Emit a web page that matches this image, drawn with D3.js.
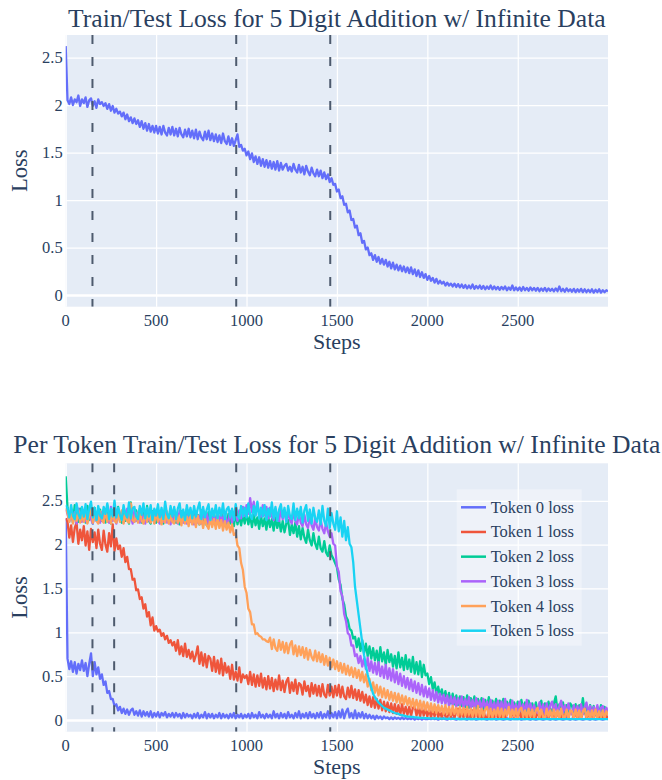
<!DOCTYPE html>
<html><head><meta charset="utf-8">
<script src="https://cdn.jsdelivr.net/npm/d3@7"></script>
<style>body{margin:0;background:#fff}svg{display:block}</style>
</head><body>
<script>
// ---- data: losses read every 10 steps (rows of 100 steps), last point at step 2999 ----
const steps = d3.range(0, 3000, 10).concat([2999]);

const totalLoss = [
2.62,2.05,2.01,2.08,2.00,2.06,2.03,2.10,1.99,2.06,
2.02,2.08,1.98,2.05,2.07,1.99,2.04,1.97,2.06,2.01,
2.03,1.99,2.02,1.96,2.01,1.94,1.99,1.92,1.96,1.91,
1.93,1.88,1.92,1.85,1.90,1.83,1.87,1.81,1.86,1.80,
1.84,1.77,1.83,1.75,1.81,1.73,1.80,1.72,1.78,1.71,
1.78,1.70,1.77,1.69,1.78,1.71,1.68,1.76,1.69,1.77,
1.68,1.75,1.67,1.76,1.69,1.66,1.74,1.67,1.75,1.66,
1.73,1.65,1.74,1.64,1.72,1.66,1.63,1.72,1.64,1.73,
1.63,1.70,1.62,1.69,1.61,1.68,1.60,1.70,1.62,1.59,
1.67,1.58,1.65,1.57,1.63,1.69,1.56,1.58,1.52,1.54,
1.47,1.51,1.43,1.49,1.40,1.46,1.38,1.45,1.36,1.43,
1.35,1.42,1.34,1.41,1.33,1.40,1.32,1.41,1.31,1.39,
1.32,1.36,1.38,1.31,1.35,1.30,1.38,1.32,1.29,1.37,
1.29,1.35,1.27,1.36,1.30,1.26,1.34,1.28,1.25,1.32,
1.25,1.31,1.23,1.29,1.22,1.27,1.19,1.23,1.16,1.17,
1.09,1.11,1.02,1.04,0.95,0.96,0.87,0.89,0.79,0.80,
0.71,0.73,0.63,0.65,0.55,0.57,0.48,0.50,0.42,0.44,
0.37,0.42,0.35,0.40,0.33,0.38,0.32,0.37,0.30,0.35,
0.28,0.34,0.27,0.32,0.26,0.31,0.25,0.30,0.24,0.29,
0.23,0.29,0.22,0.27,0.20,0.26,0.19,0.24,0.18,0.22,
0.16,0.20,0.15,0.18,0.13,0.17,0.12,0.15,0.12,0.14,
0.10,0.13,0.10,0.12,0.09,0.12,0.085,0.115,0.08,0.11,
0.075,0.105,0.07,0.10,0.07,0.11,0.065,0.095,0.07,0.10,
0.065,0.095,0.06,0.09,0.065,0.10,0.06,0.09,0.06,0.085,
0.055,0.085,0.06,0.09,0.05,0.08,0.055,0.10,0.05,0.08,
0.05,0.08,0.045,0.085,0.05,0.075,0.045,0.08,0.05,0.075,
0.045,0.075,0.04,0.07,0.045,0.075,0.04,0.07,0.045,0.065,
0.04,0.07,0.04,0.09,0.04,0.065,0.035,0.07,0.04,0.06,
0.035,0.065,0.03,0.06,0.035,0.065,0.03,0.06,0.03,0.055,
0.03,0.06,0.025,0.055,0.03,0.06,0.025,0.05,0.03,0.05,
0.04];

const token0 = [
2.30,0.70,0.58,0.67,0.55,0.66,0.53,0.64,0.57,0.68,
0.56,0.65,0.50,0.64,0.76,0.50,0.66,0.52,0.60,0.47,
0.52,0.40,0.44,0.31,0.33,0.24,0.24,0.16,0.18,0.11,
0.15,0.08,0.13,0.07,0.12,0.06,0.11,0.13,0.06,0.10,
0.05,0.11,0.04,0.10,0.05,0.09,0.04,0.10,0.03,0.08,
0.04,0.09,0.03,0.08,0.05,0.09,0.03,0.07,0.04,0.08,
0.03,0.08,0.04,0.07,0.02,0.08,0.03,0.07,0.04,0.06,
0.02,0.07,0.03,0.08,0.02,0.06,0.03,0.09,0.02,0.07,
0.03,0.07,0.02,0.06,0.03,0.08,0.02,0.07,0.03,0.06,
0.02,0.07,0.03,0.08,0.02,0.06,0.03,0.07,0.02,0.06,
0.03,0.07,0.02,0.08,0.03,0.06,0.02,0.09,0.03,0.06,
0.02,0.07,0.03,0.06,0.02,0.10,0.03,0.07,0.02,0.08,
0.03,0.07,0.02,0.09,0.03,0.06,0.02,0.08,0.03,0.10,
0.02,0.07,0.03,0.08,0.02,0.09,0.03,0.07,0.02,0.08,
0.03,0.09,0.02,0.07,0.03,0.10,0.02,0.08,0.03,0.09,
0.02,0.10,0.03,0.12,0.02,0.09,0.13,0.03,0.08,0.02,
0.11,0.02,0.08,0.03,0.09,0.02,0.07,0.02,0.06,0.02,
0.05,0.01,0.05,0.02,0.04,0.01,0.04,0.02,0.03,0.01,
0.03,0.01,0.03,0.015,0.025,0.01,0.03,0.01,0.025,0.01,
0.02,0.01,0.025,0.005,0.02,0.01,0.02,0.005,0.02,0.01,
0.01,0.015,0.01,0.02,0.01,0.015,0.005,0.015,0.01,0.02,
0.01,0.005,0.015,0.01,0.02,0.01,0.005,0.015,0.01,0.01,
0.015,0.01,0.005,0.02,0.01,0.01,0.015,0.005,0.01,0.015,
0.01,0.02,0.01,0.005,0.015,0.01,0.01,0.02,0.005,0.01,
0.015,0.01,0.005,0.01,0.02,0.01,0.005,0.015,0.01,0.01,
0.01,0.015,0.005,0.01,0.01,0.02,0.01,0.005,0.015,0.01,
0.005,0.01,0.015,0.01,0.005,0.01,0.02,0.01,0.005,0.015,
0.01,0.005,0.01,0.015,0.01,0.005,0.01,0.02,0.01,0.005,
0.015,0.01,0.005,0.01,0.015,0.01,0.005,0.01,0.02,0.01,
0.005,0.015,0.01,0.005,0.01,0.015,0.01,0.005,0.01,0.015,
0.01];

const token1 = [
2.30,2.26,2.08,2.22,2.03,2.19,2.25,2.01,2.17,2.05,
2.21,1.99,2.15,1.94,2.18,2.03,2.14,1.96,2.17,2.01,
1.94,2.16,2.00,1.92,2.13,1.98,2.23,1.93,2.07,1.95,
1.99,1.86,1.96,1.80,1.86,1.72,1.72,1.60,1.61,1.48,
1.49,1.38,1.40,1.27,1.32,1.18,1.23,1.08,1.17,1.02,
1.07,1.01,1.03,0.96,0.99,0.92,0.96,0.88,0.91,0.85,
0.89,0.79,0.91,0.75,0.84,0.73,0.87,0.72,0.80,0.70,
0.78,0.67,0.74,0.84,0.64,0.77,0.62,0.75,0.60,0.73,
0.70,0.56,0.72,0.55,0.68,0.53,0.70,0.51,0.65,0.54,
0.61,0.47,0.63,0.46,0.55,0.45,0.60,0.43,0.52,0.48,
0.51,0.41,0.55,0.40,0.52,0.38,0.51,0.39,0.53,0.37,
0.48,0.35,0.50,0.36,0.48,0.33,0.46,0.35,0.51,0.34,
0.45,0.32,0.44,0.48,0.31,0.43,0.33,0.46,0.30,0.42,
0.40,0.29,0.44,0.33,0.39,0.27,0.42,0.30,0.40,0.28,
0.39,0.27,0.41,0.29,0.26,0.40,0.28,0.38,0.26,0.39,
0.28,0.40,0.26,0.38,0.27,0.24,0.37,0.26,0.39,0.25,
0.35,0.23,0.34,0.22,0.32,0.20,0.29,0.17,0.27,0.15,
0.26,0.14,0.24,0.13,0.23,0.11,0.21,0.10,0.20,0.09,
0.19,0.08,0.18,0.07,0.17,0.06,0.18,0.07,0.15,0.06,
0.15,0.05,0.14,0.16,0.05,0.14,0.04,0.15,0.05,0.13,
0.04,0.13,0.03,0.12,0.04,0.14,0.03,0.11,0.02,0.12,
0.04,0.02,0.12,0.03,0.11,0.02,0.10,0.13,0.02,0.11,
0.03,0.12,0.02,0.10,0.02,0.11,0.03,0.15,0.02,0.10,
0.02,0.11,0.03,0.02,0.12,0.02,0.10,0.03,0.11,0.02,
0.10,0.02,0.11,0.02,0.09,0.16,0.02,0.10,0.02,0.11,
0.02,0.10,0.02,0.12,0.02,0.09,0.02,0.11,0.02,0.09,
0.02,0.10,0.03,0.02,0.11,0.02,0.09,0.02,0.13,0.02,
0.09,0.02,0.10,0.02,0.02,0.11,0.02,0.09,0.02,0.10,
0.08,0.02,0.09,0.02,0.10,0.02,0.08,0.11,0.02,0.08,
0.02,0.09,0.02,0.08,0.10,0.02,0.08,0.02,0.09,0.02,
0.05];

const token2 = [
2.78,2.42,2.28,2.39,2.25,2.45,2.30,2.26,2.41,2.27,
2.38,2.25,2.44,2.28,2.37,2.24,2.42,2.29,2.26,2.40,
2.27,2.38,2.25,2.45,2.28,2.24,2.39,2.30,2.26,2.43,
2.28,2.25,2.40,2.27,2.37,2.24,2.48,2.28,2.26,2.39,
2.27,2.41,2.25,2.36,2.26,2.44,2.27,2.24,2.38,2.28,
2.25,2.39,2.27,2.36,2.24,2.42,2.28,2.25,2.37,2.26,
2.40,2.25,2.35,2.23,2.38,2.27,2.25,2.41,2.26,2.36,
2.24,2.37,2.26,2.34,2.23,2.39,2.25,2.35,2.22,2.37,
2.26,2.23,2.36,2.24,2.34,2.22,2.38,2.25,2.33,2.21,
2.35,2.24,2.32,2.21,2.36,2.23,2.33,2.22,2.34,2.24,
2.36,2.23,2.33,2.20,2.34,2.22,2.31,2.18,2.33,2.21,
2.30,2.17,2.32,2.20,2.29,2.16,2.31,2.19,2.28,2.15,
2.27,2.14,2.24,2.28,2.11,2.23,2.13,2.25,2.09,2.21,
2.06,2.19,2.08,2.02,2.17,2.05,1.99,2.13,2.01,1.95,
2.09,1.96,1.92,2.04,1.91,1.87,1.99,1.88,1.84,1.79,
1.74,1.60,1.54,1.38,1.32,1.18,1.14,1.04,1.02,0.93,
0.95,0.83,0.93,0.79,0.91,0.76,0.87,0.73,0.84,0.70,
0.82,0.68,0.79,0.65,0.83,0.67,0.77,0.63,0.80,0.66,
0.75,0.61,0.73,0.59,0.77,0.60,0.71,0.57,0.74,0.58,
0.69,0.55,0.72,0.53,0.66,0.52,0.67,0.49,0.63,0.51,
0.53,0.41,0.49,0.35,0.43,0.30,0.38,0.27,0.35,0.24,
0.33,0.22,0.31,0.19,0.30,0.18,0.28,0.17,0.27,0.16,
0.26,0.15,0.28,0.14,0.25,0.16,0.27,0.13,0.24,0.15,
0.25,0.13,0.23,0.15,0.26,0.12,0.22,0.14,0.24,0.12,
0.22,0.13,0.24,0.11,0.21,0.13,0.23,0.10,0.20,0.12,
0.21,0.10,0.23,0.12,0.20,0.09,0.22,0.11,0.19,0.10,
0.20,0.09,0.18,0.22,0.10,0.19,0.08,0.21,0.11,0.09,
0.19,0.27,0.10,0.18,0.08,0.20,0.09,0.17,0.07,0.19,
0.16,0.08,0.18,0.07,0.17,0.09,0.25,0.08,0.16,0.07,
0.17,0.08,0.16,0.06,0.15,0.07,0.17,0.06,0.15,0.07,
0.10];

const token3 = [
2.40,2.35,2.26,2.39,2.27,2.37,2.24,2.41,2.28,2.26,
2.39,2.27,2.25,2.41,2.29,2.24,2.38,2.27,2.36,2.25,
2.37,2.26,2.40,2.28,2.25,2.43,2.27,2.36,2.24,2.39,
2.27,2.38,2.25,2.35,2.41,2.26,2.34,2.24,2.39,2.27,
2.36,2.25,2.38,2.27,2.24,2.40,2.28,2.26,2.37,2.25,
2.39,2.27,2.24,2.36,2.26,2.38,2.25,2.34,2.23,2.37,
2.26,2.35,2.24,2.39,2.27,2.25,2.36,2.24,2.38,2.26,
2.34,2.23,2.37,2.25,2.33,2.24,2.38,2.26,2.35,2.23,
2.36,2.25,2.33,2.23,2.37,2.26,2.34,2.24,2.36,2.25,
2.27,2.38,2.25,2.35,2.41,2.27,2.39,2.30,2.43,2.33,
2.45,2.35,2.53,2.37,2.49,2.34,2.47,2.36,2.32,2.45,
2.33,2.43,2.30,2.42,2.32,2.28,2.41,2.31,2.27,2.40,
2.29,2.39,2.26,2.37,2.28,2.24,2.38,2.27,2.23,2.36,
2.25,2.21,2.34,2.23,2.19,2.32,2.22,2.17,2.30,2.20,
2.16,2.28,2.18,2.13,2.25,2.15,2.09,2.13,2.01,1.99,
1.75,1.69,1.47,1.41,1.21,1.13,0.99,0.97,0.85,0.85,
0.73,0.75,0.65,0.73,0.61,0.70,0.58,0.71,0.56,0.67,
0.54,0.65,0.52,0.66,0.50,0.61,0.48,0.63,0.47,0.59,
0.45,0.58,0.43,0.55,0.41,0.53,0.39,0.50,0.37,0.48,
0.35,0.46,0.33,0.44,0.31,0.42,0.29,0.40,0.27,0.38,
0.26,0.36,0.23,0.34,0.22,0.32,0.20,0.30,0.19,0.29,
0.18,0.28,0.16,0.27,0.17,0.26,0.15,0.25,0.16,0.27,
0.14,0.24,0.15,0.26,0.13,0.23,0.12,0.25,0.14,0.22,
0.12,0.24,0.13,0.21,0.11,0.23,0.12,0.20,0.10,0.22,
0.12,0.21,0.09,0.24,0.11,0.19,0.09,0.22,0.10,0.18,
0.09,0.21,0.10,0.18,0.08,0.23,0.09,0.19,0.08,0.17,
0.10,0.08,0.20,0.09,0.18,0.07,0.19,0.08,0.17,0.21,
0.08,0.18,0.07,0.16,0.22,0.08,0.17,0.07,0.19,0.09,
0.07,0.17,0.08,0.16,0.06,0.18,0.07,0.15,0.20,0.07,
0.16,0.06,0.15,0.07,0.17,0.06,0.14,0.16,0.06,0.14,
0.09];

const token4 = [
2.42,2.36,2.26,2.40,2.24,2.35,2.27,2.39,2.25,2.34,
2.26,2.39,2.24,2.33,2.41,2.25,2.37,2.27,2.24,2.38,
2.28,2.25,2.40,2.26,2.36,2.24,2.38,2.27,2.25,2.37,
2.26,2.39,2.24,2.35,2.27,2.25,2.47,2.28,2.26,2.36,
2.25,2.38,2.27,2.24,2.36,2.26,2.39,2.25,2.34,2.24,
2.37,2.26,2.35,2.23,2.34,2.25,2.38,2.24,2.33,2.26,
2.24,2.36,2.25,2.33,2.22,2.35,2.24,2.32,2.21,2.34,
2.23,2.32,2.20,2.33,2.23,2.31,2.19,2.30,2.22,2.18,
2.31,2.20,2.29,2.18,2.30,2.19,2.28,2.16,2.27,2.17,
2.25,2.14,2.23,2.11,2.13,1.99,1.96,1.79,1.71,1.52,
1.45,1.27,1.23,1.09,1.09,0.98,0.99,0.96,0.95,0.92,
0.92,0.90,0.89,0.94,0.81,0.92,0.82,0.79,0.91,0.80,
0.89,0.77,0.88,0.76,0.86,0.90,0.75,0.85,0.73,0.84,
0.74,0.83,0.71,0.82,0.69,0.80,0.72,0.68,0.79,0.67,
0.77,0.66,0.75,0.63,0.73,0.62,0.71,0.60,0.69,0.58,
0.67,0.56,0.65,0.54,0.64,0.52,0.62,0.51,0.60,0.49,
0.59,0.48,0.57,0.45,0.55,0.43,0.52,0.38,0.47,0.34,
0.43,0.31,0.40,0.28,0.38,0.26,0.36,0.25,0.34,0.23,
0.32,0.22,0.31,0.20,0.30,0.19,0.28,0.18,0.27,0.17,
0.25,0.15,0.24,0.14,0.23,0.13,0.22,0.12,0.21,0.11,
0.20,0.10,0.19,0.09,0.18,0.08,0.17,0.09,0.16,0.07,
0.17,0.07,0.15,0.06,0.16,0.07,0.14,0.05,0.15,0.06,
0.14,0.05,0.15,0.06,0.13,0.04,0.14,0.05,0.16,0.04,
0.13,0.04,0.12,0.15,0.04,0.13,0.03,0.12,0.05,0.14,
0.04,0.13,0.03,0.12,0.05,0.15,0.03,0.12,0.04,0.13,
0.03,0.12,0.14,0.04,0.11,0.03,0.13,0.04,0.12,0.03,
0.11,0.14,0.03,0.12,0.04,0.02,0.13,0.04,0.11,0.03,
0.12,0.03,0.11,0.02,0.13,0.04,0.03,0.12,0.02,0.11,
0.10,0.02,0.12,0.03,0.11,0.02,0.10,0.13,0.03,0.10,
0.02,0.11,0.03,0.12,0.02,0.10,0.03,0.11,0.02,0.10,
0.06];

const token5 = [
2.45,2.41,2.31,2.45,2.33,2.29,2.47,2.35,2.30,2.43,
2.32,2.46,2.29,2.41,2.49,2.31,2.42,2.28,2.44,2.33,
2.30,2.43,2.35,2.47,2.29,2.41,2.32,2.50,2.31,2.42,
2.34,2.28,2.45,2.35,2.31,2.48,2.30,2.41,2.43,2.32,
2.29,2.44,2.34,2.47,2.30,2.42,2.32,2.45,2.28,2.41,
2.33,2.46,2.31,2.42,2.29,2.49,2.35,2.30,2.44,2.32,
2.43,2.29,2.41,2.47,2.31,2.40,2.28,2.45,2.33,2.42,
2.30,2.44,2.32,2.41,2.48,2.29,2.43,2.31,2.40,2.46,
2.28,2.41,2.32,2.45,2.30,2.42,2.33,2.47,2.29,2.40,
2.43,2.31,2.41,2.28,2.46,2.33,2.30,2.44,2.32,2.42,
2.31,2.47,2.34,2.29,2.44,2.33,2.49,2.30,2.42,2.32,
2.45,2.28,2.41,2.32,2.48,2.30,2.43,2.27,2.40,2.46,
2.31,2.42,2.26,2.44,2.33,2.29,2.47,2.28,2.41,2.30,
2.43,2.25,2.39,2.45,2.27,2.40,2.24,2.42,2.30,2.26,
2.39,2.23,2.44,2.27,2.21,2.41,2.19,2.36,2.24,2.17,
2.38,2.15,2.31,2.09,2.27,2.05,2.20,2.01,1.97,1.80,
1.52,1.36,1.20,1.04,0.88,0.74,0.62,0.52,0.44,0.37,
0.30,0.26,0.23,0.20,0.18,0.16,0.14,0.13,0.12,0.11,
0.10,0.09,0.08,0.075,0.07,0.06,0.055,0.05,0.045,0.04,
0.04,0.035,0.035,0.03,0.03,0.028,0.026,0.025,0.024,0.022,
0.022,0.02,0.02,0.019,0.018,0.018,0.017,0.016,0.016,0.015,
0.015,0.014,0.015,0.013,0.014,0.013,0.014,0.012,0.013,0.012,
0.013,0.012,0.013,0.011,0.012,0.011,0.012,0.011,0.012,0.011,
0.011,0.01,0.011,0.01,0.011,0.01,0.01,0.011,0.01,0.01,
0.011,0.01,0.01,0.011,0.01,0.01,0.011,0.01,0.01,0.01,
0.01,0.011,0.01,0.01,0.01,0.011,0.01,0.01,0.01,0.01,
0.01,0.01,0.011,0.01,0.01,0.01,0.01,0.011,0.01,0.01,
0.01,0.01,0.01,0.01,0.011,0.01,0.01,0.01,0.01,0.01,
0.011,0.01,0.01,0.01,0.01,0.01,0.011,0.01,0.01,0.01,
0.01,0.01,0.01,0.011,0.01,0.01,0.01,0.01,0.01,0.011,
0.01];

const tokenNames = ["Token 0 loss","Token 1 loss","Token 2 loss","Token 3 loss","Token 4 loss","Token 5 loss"];
const tokenSeries = [token0, token1, token2, token3, token4, token5];
const tokenColors = ["#636efa","#EF553B","#00cc96","#ab63fa","#FFA15A","#19d3f3"];

const xTicks = [0, 500, 1000, 1500, 2000, 2500];
const yTicks = [0, 0.5, 1, 1.5, 2, 2.5];
const topVlines = [148, 943, 1463];
const bottomVlines = [148, 268, 943, 1463];

const topTitle = "Train/Test Loss for 5 Digit Addition w/ Infinite Data";
const bottomTitle = "Per Token Train/Test Loss for 5 Digit Addition w/ Infinite Data";
const xTitle = "Steps";
const yTitle = "Loss";

// ---- drawing ----
const W = 662, H = 780;
const FONT = "'Liberation Serif','Times New Roman',serif";
const TXT = "#2a3f5f";
const svg = d3.select("body").append("svg").attr("width", W).attr("height", H)
  .style("font-family", FONT);
svg.append("rect").attr("width", W).attr("height", H).attr("fill", "#fff");

const xLeft = 65.7, xRight = 608;

function panel(id, top, bottom, yDomain, title, titleY, series, colors, vlines) {
  const x = d3.scaleLinear().domain([0, 2999]).range([xLeft, xRight]);
  const y = d3.scaleLinear().domain(yDomain).range([bottom, top]);
  const g = svg.append("g");
  g.append("rect").attr("x", xLeft).attr("y", top).attr("width", xRight - xLeft)
    .attr("height", bottom - top).attr("fill", "#E5ECF6");
  const gx = g.append("g").attr("transform", `translate(0,${bottom})`)
    .call(d3.axisBottom(x).tickValues(xTicks).tickSize(-(bottom - top)).tickFormat(""));
  gx.select(".domain").remove();
  gx.selectAll("line").attr("stroke", "#fff").attr("stroke-width", 1.25);
  const gy = g.append("g").attr("transform", `translate(${xLeft},0)`)
    .call(d3.axisLeft(y).tickValues(yTicks).tickSize(-(xRight - xLeft)).tickFormat(""));
  gy.select(".domain").remove();
  gy.selectAll("line").attr("stroke", "#fff").attr("stroke-width", d => d === 0 ? 2.5 : 1.25);
  g.append("g").selectAll("text").data(xTicks).join("text")
    .attr("x", d => x(d)).attr("y", bottom + 19).attr("text-anchor", "middle")
    .attr("font-size", 16.5).attr("fill", TXT).text(d => d);
  g.append("g").selectAll("text").data(yTicks).join("text")
    .attr("x", xLeft - 3).attr("y", d => y(d) + 5.5).attr("text-anchor", "end")
    .attr("font-size", 16.5).attr("fill", TXT).text(d => d);
  svg.append("clipPath").attr("id", id).append("rect")
    .attr("x", xLeft).attr("y", top).attr("width", xRight - xLeft).attr("height", bottom - top);
  const line = d3.line().x((d, i) => x(steps[i])).y(d => y(d));
  const lg = g.append("g").attr("clip-path", `url(#${id})`);
  series.forEach((s, k) => {
    lg.append("path").datum(s).attr("d", line).attr("fill", "none")
      .attr("stroke", colors[k]).attr("stroke-width", 2.3).attr("stroke-linejoin", "round");
  });
  lg.selectAll("line.v").data(vlines).join("line").attr("class", "v")
    .attr("x1", d => x(d)).attr("x2", d => x(d)).attr("y1", top).attr("y2", bottom)
    .attr("stroke", "#4d5a6d").attr("stroke-width", 2).attr("stroke-dasharray", "9,13");
  svg.append("text").attr("x", (xLeft + xRight) / 2).attr("y", titleY).attr("text-anchor", "middle")
    .attr("font-size", 25.6).attr("fill", TXT).text(title);
  svg.append("text").attr("x", (xLeft + xRight) / 2).attr("y", bottom + 42).attr("text-anchor", "middle")
    .attr("font-size", 22).attr("fill", TXT).text(xTitle);
  svg.append("text").attr("transform", `translate(27,${(top + bottom) / 2}) rotate(-90)`)
    .attr("text-anchor", "middle").attr("font-size", 22.5).attr("fill", TXT).text(yTitle);
  return { x, y, g };
}

panel("clipTop", 35, 306.7, [-0.123, 2.737], topTitle, 26.7, [totalLoss], ["#636efa"], topVlines);
panel("clipBot", 463.3, 731.7, [-0.133, 2.927], bottomTitle, 453.3, tokenSeries, tokenColors, bottomVlines);

// legend
const leg = svg.append("g");
leg.append("rect").attr("x", 456.7).attr("y", 489.3).attr("width", 125).attr("height", 156.4)
  .attr("fill", "rgba(255,255,255,0.35)");
const legY = d3.scalePoint().domain(tokenNames).range([507.3, 630.7]);
tokenNames.forEach((n, k) => {
  const cy = legY(n);
  leg.append("line").attr("x1", 461).attr("x2", 486).attr("y1", cy).attr("y2", cy)
    .attr("stroke", tokenColors[k]).attr("stroke-width", 2.5);
  leg.append("text").attr("x", 490.7).attr("y", cy + 5.5).attr("font-size", 16.5)
    .attr("fill", TXT).text(n);
});
</script>
</body></html>
